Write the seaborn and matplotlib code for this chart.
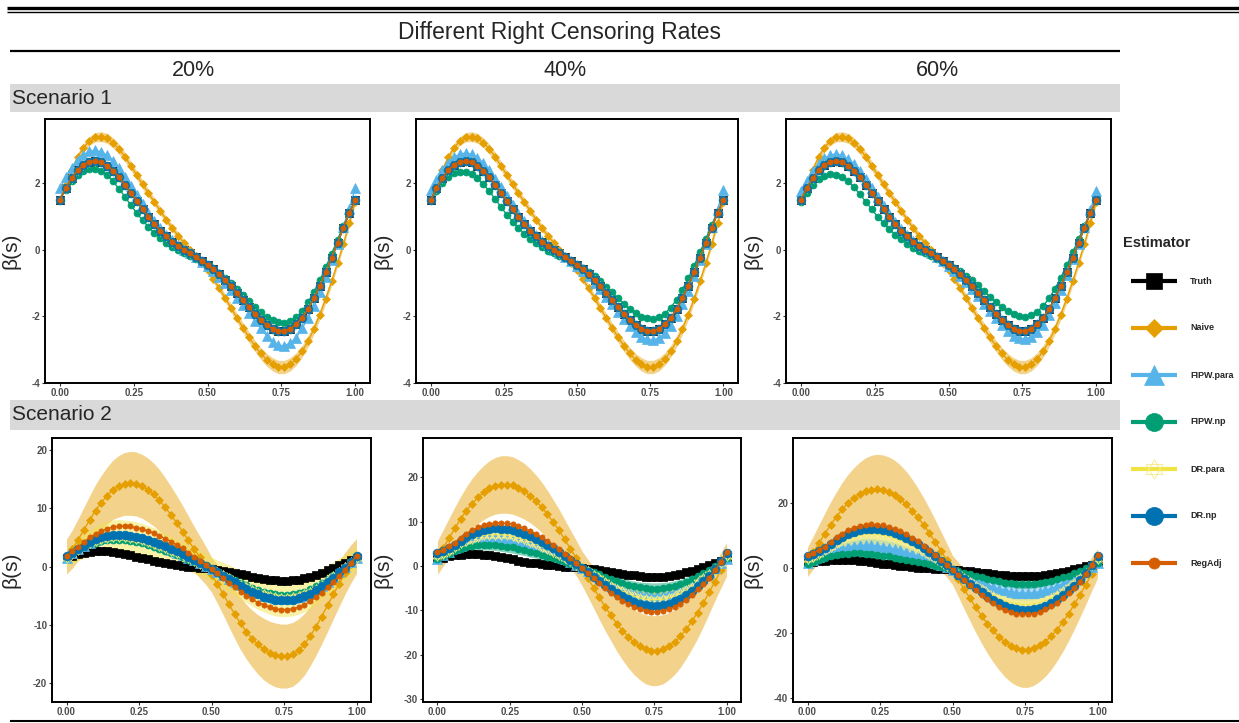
import numpy as np
import seaborn as sns
import matplotlib.pyplot as plt
from matplotlib.path import Path
from matplotlib.patches import Rectangle

sns.set_theme(style="white")
plt.rcParams['font.family'] = ['Liberation Sans', 'DejaVu Sans']

# Datos (s = 0, 0.02, ..., 1)
# ==============================================================================
s_grid = np.linspace(0, 1, 51)

truth = [1.50, 1.85, 2.15, 2.39, 2.55, 2.65, 2.67, 2.63, 2.53, 2.38,
         2.19, 1.96, 1.72, 1.48, 1.23, 1.00, 0.78, 0.58, 0.41, 0.25,
         0.12, 0.00, -0.11, -0.22, -0.33, -0.46, -0.59, -0.74, -0.92, -1.10,
         -1.31, -1.52, -1.72, -1.93, -2.11, -2.26, -2.37, -2.43, -2.43, -2.37,
         -2.24, -2.05, -1.79, -1.46, -1.09, -0.68, -0.24, 0.21, 0.66, 1.10,
         1.50]

# Escenario 1
naive_s1 = [1.50, 1.95, 2.40, 2.78, 3.07, 3.27, 3.38, 3.40, 3.35, 3.22,
            3.03, 2.80, 2.53, 2.25, 1.97, 1.70, 1.44, 1.17, 0.91, 0.66,
            0.43, 0.21, 0.00, -0.20, -0.40, -0.62, -0.88, -1.16, -1.45, -1.75,
            -2.05, -2.34, -2.62, -2.88, -3.11, -3.30, -3.44, -3.52, -3.52, -3.44,
            -3.28, -3.05, -2.75, -2.38, -1.95, -1.47, -0.95, -0.40, 0.18, 0.80,
            1.45]
hw_naive_s1 = [0.08, 0.09, 0.10, 0.11, 0.12, 0.13, 0.14, 0.15, 0.15, 0.15,
               0.15, 0.14, 0.14, 0.13, 0.13, 0.12, 0.12, 0.12, 0.11, 0.11,
               0.11, 0.11, 0.11, 0.11, 0.11, 0.11, 0.11, 0.12, 0.12, 0.13,
               0.14, 0.15, 0.16, 0.17, 0.18, 0.19, 0.20, 0.20, 0.20, 0.20,
               0.19, 0.18, 0.17, 0.16, 0.15, 0.14, 0.13, 0.12, 0.11, 0.10,
               0.09]
fipw_para_s1_20 = [1.85, 2.18, 2.47, 2.70, 2.86, 2.96, 2.99, 2.95, 2.84, 2.67,
                   2.45, 2.20, 1.93, 1.66, 1.38, 1.12, 0.88, 0.66, 0.46, 0.29,
                   0.14, 0.01, -0.11, -0.23, -0.36, -0.50, -0.65, -0.82, -1.01, -1.21,
                   -1.44, -1.67, -1.90, -2.13, -2.35, -2.58, -2.76, -2.87, -2.88, -2.80,
                   -2.64, -2.36, -2.06, -1.69, -1.27, -0.81, -0.32, 0.18, 0.70, 1.24,
                   1.85]
fipw_para_s1_40 = [1.80, 2.10, 2.39, 2.62, 2.78, 2.88, 2.91, 2.87, 2.76, 2.60,
                   2.39, 2.14, 1.88, 1.62, 1.34, 1.09, 0.86, 0.64, 0.45, 0.28,
                   0.14, 0.01, -0.11, -0.23, -0.35, -0.49, -0.64, -0.80, -0.99, -1.18,
                   -1.41, -1.63, -1.86, -2.08, -2.29, -2.47, -2.61, -2.69, -2.71, -2.65,
                   -2.50, -2.28, -1.99, -1.63, -1.23, -0.78, -0.30, 0.19, 0.69, 1.21,
                   1.80]
fipw_para_s1_60 = [1.78, 2.06, 2.36, 2.59, 2.75, 2.85, 2.88, 2.84, 2.73, 2.57,
                   2.36, 2.12, 1.86, 1.60, 1.33, 1.08, 0.85, 0.63, 0.44, 0.28,
                   0.13, 0.01, -0.11, -0.23, -0.35, -0.49, -0.63, -0.79, -0.98, -1.17,
                   -1.39, -1.62, -1.84, -2.06, -2.27, -2.44, -2.58, -2.66, -2.67, -2.61,
                   -2.47, -2.25, -1.97, -1.61, -1.21, -0.76, -0.29, 0.19, 0.69, 1.19,
                   1.78]
fipw_np_s1_20 = [1.50, 1.80, 2.06, 2.25, 2.38, 2.44, 2.44, 2.37, 2.24, 2.06,
                 1.84, 1.60, 1.35, 1.11, 0.89, 0.69, 0.51, 0.35, 0.21, 0.09,
                 -0.01, -0.10, -0.18, -0.27, -0.36, -0.46, -0.57, -0.70, -0.84, -1.00,
                 -1.17, -1.35, -1.54, -1.72, -1.88, -2.02, -2.12, -2.18, -2.19, -2.14,
                 -2.03, -1.84, -1.58, -1.27, -0.92, -0.53, -0.12, 0.30, 0.72, 1.12,
                 1.50]
fipw_np_s1_40 = [1.50, 1.76, 2.00, 2.18, 2.30, 2.35, 2.35, 2.28, 2.15, 1.97,
                 1.76, 1.53, 1.29, 1.06, 0.85, 0.66, 0.49, 0.34, 0.20, 0.08,
                 -0.02, -0.10, -0.18, -0.26, -0.35, -0.45, -0.55, -0.67, -0.80, -0.95,
                 -1.11, -1.28, -1.46, -1.63, -1.78, -1.91, -2.01, -2.06, -2.07, -2.02,
                 -1.92, -1.74, -1.50, -1.20, -0.86, -0.48, -0.08, 0.33, 0.74, 1.13,
                 1.50]
fipw_np_s1_60 = [1.45, 1.72, 1.95, 2.12, 2.23, 2.27, 2.26, 2.19, 2.06, 1.88,
                 1.67, 1.45, 1.22, 1.00, 0.80, 0.62, 0.46, 0.32, 0.19, 0.07,
                 -0.03, -0.11, -0.19, -0.27, -0.35, -0.44, -0.54, -0.65, -0.78, -0.92,
                 -1.07, -1.24, -1.41, -1.57, -1.72, -1.85, -1.94, -2.00, -2.01, -1.96,
                 -1.86, -1.69, -1.46, -1.17, -0.84, -0.47, -0.08, 0.32, 0.72, 1.10,
                 1.48]

# Escenario 2
naive_s2_20 = [1.7, 3.0, 4.6, 6.3, 8.0, 9.6, 11.0, 12.2, 13.2, 13.8,
               14.2, 14.3, 14.2, 13.8, 13.2, 12.4, 11.4, 10.2, 8.9, 7.5,
               6.0, 4.5, 3.0, 1.6, 0.2, -1.4, -3.0, -4.7, -6.5, -8.2,
               -9.8, -11.2, -12.4, -13.4, -14.2, -14.8, -15.2, -15.4, -15.4, -15.1,
               -14.4, -13.4, -12.0, -10.4, -8.6, -6.7, -4.8, -3.0, -1.2, 0.4,
               1.8]
naive_s2_40 = [1.9, 4.1, 6.3, 8.5, 10.6, 12.5, 14.1, 15.5, 16.6, 17.5,
               18.1, 18.4, 18.4, 18.2, 17.6, 16.9, 15.9, 14.7, 13.3, 11.7,
               9.9, 8.1, 6.0, 3.9, 1.8, -0.5, -2.7, -4.9, -7.1, -9.2,
               -11.1, -13.0, -14.6, -16.0, -17.2, -18.1, -18.8, -19.1, -19.1, -18.8,
               -18.1, -17.2, -15.9, -14.3, -12.5, -10.5, -8.3, -5.9, -3.5, -1.0,
               1.5]
naive_s2_60 = [2.0, 4.9, 7.8, 10.7, 13.4, 15.9, 18.2, 20.1, 21.6, 22.8,
               23.7, 24.2, 24.3, 24.0, 23.4, 22.5, 21.2, 19.7, 17.8, 15.7,
               13.4, 10.9, 8.2, 5.4, 2.5, -0.5, -3.4, -6.4, -9.2, -12.0,
               -14.6, -17.0, -19.1, -21.0, -22.6, -23.8, -24.6, -25.0, -25.0, -24.6,
               -23.7, -22.5, -20.9, -18.9, -16.6, -14.0, -11.1, -8.1, -5.0, -1.7,
               1.5]
fipw_para_s2_20 = [1.5, 2.3, 3.0, 3.6, 4.1, 4.5, 4.9, 5.1, 5.2, 5.3,
                   5.2, 5.1, 4.9, 4.7, 4.4, 4.0, 3.7, 3.3, 2.9, 2.4,
                   2.0, 1.5, 1.1, 0.6, 0.1, -0.5, -1.0, -1.5, -2.1, -2.6,
                   -3.2, -3.7, -4.2, -4.6, -5.0, -5.3, -5.5, -5.6, -5.6, -5.5,
                   -5.3, -5.0, -4.5, -3.9, -3.3, -2.6, -1.8, -1.0, -0.1, 0.7,
                   1.5]
fipw_para_s2_40 = [1.5, 2.4, 3.2, 4.0, 4.6, 5.2, 5.6, 5.9, 6.2, 6.3,
                   6.3, 6.2, 6.0, 5.8, 5.5, 5.1, 4.7, 4.2, 3.7, 3.2,
                   2.7, 2.1, 1.5, 0.9, 0.2, -0.5, -1.1, -1.8, -2.5, -3.2,
                   -3.8, -4.5, -5.0, -5.6, -6.0, -6.4, -6.6, -6.7, -6.7, -6.6,
                   -6.3, -5.9, -5.4, -4.8, -4.0, -3.2, -2.3, -1.4, -0.4, 0.6,
                   1.5]
fipw_para_s2_60 = [1.5, 2.5, 3.4, 4.3, 5.1, 5.7, 6.2, 6.6, 6.9, 7.1,
                   7.1, 7.1, 6.9, 6.7, 6.3, 6.0, 5.5, 5.0, 4.4, 3.8,
                   3.2, 2.5, 1.8, 1.1, 0.3, -0.5, -1.2, -2.0, -2.8, -3.6,
                   -4.4, -5.1, -5.7, -6.3, -6.8, -7.2, -7.5, -7.6, -7.6, -7.5,
                   -7.2, -6.8, -6.2, -5.5, -4.7, -3.7, -2.8, -1.7, -0.6, 0.5,
                   1.5]
fipw_np_s2_20 = [1.5, 2.2, 2.8, 3.3, 3.8, 4.1, 4.4, 4.6, 4.6, 4.6,
                 4.6, 4.4, 4.2, 4.0, 3.7, 3.4, 3.0, 2.7, 2.3, 2.0,
                 1.6, 1.2, 0.8, 0.4, 0.0, -0.5, -0.9, -1.4, -1.8, -2.3,
                 -2.8, -3.2, -3.7, -4.0, -4.4, -4.6, -4.8, -4.9, -4.9, -4.8,
                 -4.6, -4.3, -3.9, -3.4, -2.8, -2.2, -1.5, -0.7, 0.0, 0.8,
                 1.5]
fipw_np_s2_40 = [1.5, 2.2, 2.8, 3.4, 3.9, 4.2, 4.5, 4.7, 4.8, 4.8,
                 4.8, 4.6, 4.4, 4.2, 3.9, 3.6, 3.2, 2.9, 2.5, 2.1,
                 1.7, 1.3, 0.9, 0.5, 0.0, -0.5, -0.9, -1.4, -1.9, -2.4,
                 -2.9, -3.4, -3.8, -4.2, -4.6, -4.8, -5.0, -5.1, -5.1, -5.0,
                 -4.8, -4.5, -4.1, -3.5, -2.9, -2.3, -1.5, -0.8, 0.0, 0.8,
                 1.7]
fipw_np_s2_60 = [1.4, 2.1, 2.7, 3.3, 3.7, 4.1, 4.4, 4.5, 4.6, 4.6,
                 4.5, 4.4, 4.2, 3.9, 3.7, 3.3, 3.0, 2.7, 2.3, 1.9,
                 1.6, 1.2, 0.8, 0.4, 0.0, -0.5, -0.9, -1.4, -1.8, -2.3,
                 -2.8, -3.2, -3.7, -4.0, -4.4, -4.6, -4.8, -4.9, -4.9, -4.8,
                 -4.6, -4.3, -3.9, -3.4, -2.8, -2.2, -1.5, -0.7, 0.0, 0.8,
                 1.6]
dr_para_s2_20 = [1.5, 2.2, 2.9, 3.5, 4.0, 4.4, 4.7, 4.9, 5.1, 5.1,
                 5.0, 4.9, 4.7, 4.5, 4.2, 3.9, 3.5, 3.1, 2.7, 2.3,
                 1.9, 1.5, 1.0, 0.5, 0.1, -0.5, -1.0, -1.5, -2.0, -2.6,
                 -3.1, -3.6, -4.0, -4.5, -4.8, -5.1, -5.3, -5.4, -5.4, -5.3,
                 -5.1, -4.8, -4.3, -3.8, -3.1, -2.4, -1.7, -0.9, -0.1, 0.7,
                 1.5]
dr_para_s2_40 = [2.2, 2.7, 3.4, 4.3, 5.1, 5.7, 6.2, 6.6, 6.9, 7.1,
                 7.1, 7.1, 6.9, 6.7, 6.3, 6.0, 5.5, 5.0, 4.4, 3.8,
                 3.2, 2.5, 1.8, 1.1, 0.3, -0.5, -1.2, -2.0, -2.8, -3.6,
                 -4.4, -5.1, -5.7, -6.3, -6.8, -7.2, -7.5, -7.6, -7.6, -7.5,
                 -7.2, -6.8, -6.2, -5.5, -4.7, -3.7, -2.8, -1.7, -0.6, 0.7,
                 2.2]
dr_para_s2_60 = [2.8, 3.6, 4.3, 5.6, 6.7, 7.8, 8.6, 9.3, 9.9, 10.2,
                 10.5, 10.5, 10.4, 10.2, 9.8, 9.3, 8.6, 7.9, 7.1, 6.2,
                 5.2, 4.2, 3.1, 2.0, 0.8, -0.5, -1.7, -2.9, -4.1, -5.3,
                 -6.4, -7.5, -8.4, -9.3, -10.0, -10.5, -10.9, -11.1, -11.1, -10.9,
                 -10.5, -9.9, -9.1, -8.2, -7.1, -5.8, -4.4, -3.0, -1.5, 1.0,
                 2.8]
dr_np_s2_20 = [1.8, 2.3, 3.0, 3.6, 4.2, 4.7, 5.0, 5.3, 5.4, 5.5,
               5.4, 5.3, 5.1, 4.9, 4.6, 4.2, 3.9, 3.5, 3.0, 2.6,
               2.1, 1.6, 1.1, 0.6, 0.1, -0.5, -1.0, -1.6, -2.2, -2.7,
               -3.3, -3.9, -4.3, -4.8, -5.2, -5.5, -5.7, -5.8, -5.8, -5.7,
               -5.5, -5.1, -4.7, -4.1, -3.4, -2.7, -1.9, -1.0, -0.2, 0.7,
               1.8]
dr_np_s2_40 = [3.0, 3.5, 4.1, 4.8, 5.7, 6.5, 7.2, 7.7, 8.1, 8.4,
               8.5, 8.4, 8.3, 8.1, 7.7, 7.3, 6.8, 6.2, 5.5, 4.8,
               4.0, 3.2, 2.3, 1.4, 0.5, -0.5, -1.4, -2.4, -3.4, -4.3,
               -5.2, -6.0, -6.8, -7.5, -8.1, -8.5, -8.9, -9.0, -9.0, -8.9,
               -8.5, -8.0, -7.4, -6.6, -5.6, -4.6, -3.4, -2.2, -0.7, 1.1,
               3.0]
dr_np_s2_60 = [3.8, 4.5, 5.2, 6.2, 7.6, 8.8, 9.8, 10.7, 11.3, 11.8,
               12.1, 12.2, 12.1, 11.9, 11.4, 10.9, 10.2, 9.4, 8.4, 7.4,
               6.2, 5.0, 3.7, 2.4, 1.0, -0.5, -1.9, -3.3, -4.8, -6.1,
               -7.4, -8.6, -9.7, -10.7, -11.5, -12.2, -12.6, -12.8, -12.8, -12.6,
               -12.1, -11.5, -10.6, -9.5, -8.2, -6.8, -5.3, -3.6, -1.4, 1.1,
               3.8]
reg_adj_s2_20 = [1.8, 2.6, 3.4, 4.2, 5.0, 5.6, 6.1, 6.5, 6.8, 6.9,
                 7.0, 6.9, 6.7, 6.5, 6.1, 5.8, 5.3, 4.8, 4.3, 3.7,
                 3.1, 2.4, 1.7, 1.0, 0.3, -0.5, -1.2, -2.0, -2.8, -3.5,
                 -4.3, -5.0, -5.6, -6.2, -6.6, -7.0, -7.3, -7.4, -7.4, -7.3,
                 -7.0, -6.6, -6.0, -5.3, -4.5, -3.6, -2.7, -1.6, -0.6, 0.6,
                 1.8]
reg_adj_s2_40 = [3.1, 3.7, 4.5, 5.3, 6.4, 7.3, 8.1, 8.7, 9.2, 9.5,
                 9.7, 9.7, 9.6, 9.4, 9.0, 8.5, 7.9, 7.3, 6.5, 5.7,
                 4.8, 3.8, 2.8, 1.8, 0.7, -0.5, -1.6, -2.7, -3.8, -4.9,
                 -6.0, -6.9, -7.8, -8.6, -9.3, -9.8, -10.1, -10.3, -10.3, -10.1,
                 -9.8, -9.2, -8.5, -7.6, -6.5, -5.3, -4.1, -2.7, -1.0, 1.0,
                 3.1]
reg_adj_s2_60 = [4.2, 4.8, 5.7, 6.7, 8.2, 9.5, 10.7, 11.7, 12.4, 13.0,
                 13.3, 13.5, 13.4, 13.2, 12.7, 12.1, 11.4, 10.5, 9.4, 8.3,
                 7.0, 5.6, 4.2, 2.7, 1.1, -0.5, -2.1, -3.7, -5.2, -6.7,
                 -8.2, -9.5, -10.7, -11.8, -12.7, -13.4, -13.9, -14.1, -14.1, -13.9,
                 -13.4, -12.6, -11.7, -10.5, -9.1, -7.6, -5.9, -4.1, -1.7, 1.1,
                 4.2]

# semi-anchos de las bandas
hw_naive_s2_20 = [3.0, 3.3, 3.6, 3.9, 4.2, 4.5, 4.7, 4.9, 5.1, 5.3,
                  5.4, 5.5, 5.5, 5.5, 5.5, 5.4, 5.3, 5.1, 4.9, 4.7,
                  4.5, 4.2, 3.9, 3.6, 3.3, 3.0, 3.3, 3.6, 3.9, 4.2,
                  4.5, 4.7, 4.9, 5.1, 5.3, 5.4, 5.5, 5.5, 5.5, 5.5,
                  5.4, 5.3, 5.1, 4.9, 4.7, 4.5, 4.2, 3.9, 3.6, 3.3,
                  3.0]
hw_naive_s2_40 = [3.8, 4.1, 4.5, 4.8, 5.1, 5.4, 5.7, 5.9, 6.1, 6.3,
                  6.4, 6.5, 6.5, 6.5, 6.4, 6.3, 6.1, 5.9, 5.7, 5.4,
                  5.1, 4.8, 4.5, 4.2, 4.0, 3.9, 4.2, 4.6, 5.0, 5.4,
                  5.8, 6.2, 6.6, 7.0, 7.3, 7.6, 7.8, 7.9, 7.9, 7.8,
                  7.6, 7.3, 7.0, 6.6, 6.2, 5.8, 5.3, 4.8, 4.3, 4.0,
                  3.8]
hw_naive_s2_60 = [4.5, 5.1, 5.7, 6.4, 7.1, 7.7, 8.3, 8.9, 9.4, 9.9,
                  10.3, 10.6, 10.8, 10.9, 10.9, 10.8, 10.6, 10.2, 9.7, 9.1,
                  8.4, 7.6, 6.8, 6.0, 5.2, 4.5, 5.3, 6.1, 6.9, 7.7,
                  8.4, 9.1, 9.7, 10.2, 10.7, 11.1, 11.4, 11.6, 11.6, 11.4,
                  11.1, 10.7, 10.2, 9.6, 9.0, 8.3, 7.6, 6.8, 6.0, 5.2,
                  4.5]
hw_dr_para_s2_20 = [1.5, 1.7, 1.9, 2.1, 2.3, 2.5, 2.7, 2.8, 2.9, 3.0,
                    3.0, 3.0, 3.0, 2.9, 2.9, 2.8, 2.7, 2.6, 2.5, 2.4,
                    2.3, 2.2, 2.2, 2.1, 2.1, 2.1, 2.1, 2.2, 2.3, 2.4,
                    2.5, 2.6, 2.8, 2.9, 3.0, 3.1, 3.2, 3.2, 3.2, 3.2,
                    3.1, 3.0, 2.9, 2.8, 2.7, 2.6, 2.5, 2.3, 2.2, 2.1,
                    2.0]
hw_dr_para_s2_40 = [1.0, 1.2, 1.3, 1.5, 1.6, 1.8, 1.9, 2.0, 2.0, 2.1,
                    2.1, 2.1, 2.1, 2.0, 2.0, 2.0, 1.9, 1.8, 1.8, 1.7,
                    1.6, 1.5, 1.5, 1.5, 1.5, 1.5, 1.5, 1.5, 1.6, 1.7,
                    1.8, 1.8, 2.0, 2.0, 2.1, 2.2, 2.2, 2.2, 2.2, 2.2,
                    2.2, 2.1, 2.0, 2.0, 1.9, 1.8, 1.8, 1.6, 1.5, 1.5,
                    1.4]
hw_dr_para_s2_60 = [1.2, 1.4, 1.6, 1.8, 2.0, 2.2, 2.4, 2.5, 2.6, 2.7,
                    2.8, 2.8, 2.8, 2.8, 2.7, 2.6, 2.5, 2.4, 2.3, 2.2,
                    2.1, 2.0, 1.9, 1.8, 1.8, 1.8, 1.8, 1.9, 2.0, 2.1,
                    2.2, 2.4, 2.5, 2.6, 2.7, 2.8, 2.9, 2.9, 2.9, 2.9,
                    2.8, 2.7, 2.6, 2.5, 2.4, 2.2, 2.0, 1.9, 1.7, 1.5,
                    1.4]
hw_fipw_para_s2_40 = [0.7, 0.8, 0.9, 1.0, 1.1, 1.2, 1.3, 1.4, 1.5, 1.5,
                      1.6, 1.6, 1.6, 1.6, 1.6, 1.5, 1.5, 1.4, 1.3, 1.3,
                      1.2, 1.1, 1.0, 1.0, 0.9, 0.9, 0.9, 1.0, 1.0, 1.1,
                      1.2, 1.3, 1.3, 1.4, 1.5, 1.5, 1.6, 1.6, 1.6, 1.6,
                      1.5, 1.5, 1.4, 1.3, 1.3, 1.2, 1.1, 1.0, 0.9, 0.8,
                      0.7]
hw_fipw_para_s2_60 = [0.9, 1.0, 1.2, 1.3, 1.5, 1.6, 1.8, 1.9, 2.0, 2.1,
                      2.2, 2.2, 2.2, 2.2, 2.2, 2.1, 2.0, 1.9, 1.8, 1.7,
                      1.6, 1.5, 1.3, 1.2, 1.1, 1.0, 1.1, 1.2, 1.3, 1.5,
                      1.6, 1.7, 1.8, 1.9, 2.0, 2.1, 2.2, 2.2, 2.2, 2.2,
                      2.1, 2.0, 1.9, 1.8, 1.7, 1.5, 1.4, 1.3, 1.1, 1.0,
                      0.9]
hw_fipw_np_s2 = [0.5, 0.6, 0.7, 0.8, 0.9, 1.0, 1.1, 1.1, 1.2, 1.2,
                 1.3, 1.3, 1.3, 1.3, 1.3, 1.2, 1.2, 1.1, 1.1, 1.0,
                 0.9, 0.9, 0.8, 0.7, 0.7, 0.6, 0.7, 0.7, 0.8, 0.9,
                 0.9, 1.0, 1.1, 1.1, 1.2, 1.2, 1.3, 1.3, 1.3, 1.3,
                 1.2, 1.2, 1.1, 1.0, 1.0, 0.9, 0.8, 0.7, 0.6, 0.6,
                 0.5]

columnas = ["20%", "40%", "60%"]
escenarios = ["Scenario 1", "Scenario 2"]
estimadores = ["Truth", "Naive", "FIPW.para", "FIPW.np", "DR.para", "DR.np", "RegAdj"]

curvas = {
    (0, 0): [truth, naive_s1, fipw_para_s1_20, fipw_np_s1_20, truth, truth, truth],
    (0, 1): [truth, naive_s1, fipw_para_s1_40, fipw_np_s1_40, truth, truth, truth],
    (0, 2): [truth, naive_s1, fipw_para_s1_60, fipw_np_s1_60, truth, truth, truth],
    (1, 0): [truth, naive_s2_20, fipw_para_s2_20, fipw_np_s2_20, dr_para_s2_20, dr_np_s2_20, reg_adj_s2_20],
    (1, 1): [truth, naive_s2_40, fipw_para_s2_40, fipw_np_s2_40, dr_para_s2_40, dr_np_s2_40, reg_adj_s2_40],
    (1, 2): [truth, naive_s2_60, fipw_para_s2_60, fipw_np_s2_60, dr_para_s2_60, dr_np_s2_60, reg_adj_s2_60],
}
bandas = {
    (0, 0): {"Naive": hw_naive_s1},
    (0, 1): {"Naive": hw_naive_s1},
    (0, 2): {"Naive": hw_naive_s1},
    (1, 0): {"Naive": hw_naive_s2_20, "DR.para": hw_dr_para_s2_20},
    (1, 1): {"Naive": hw_naive_s2_40, "FIPW.para": hw_fipw_para_s2_40,
             "FIPW.np": hw_fipw_np_s2, "DR.para": hw_dr_para_s2_40},
    (1, 2): {"Naive": hw_naive_s2_60, "FIPW.para": hw_fipw_para_s2_60,
             "FIPW.np": hw_fipw_np_s2, "DR.para": hw_dr_para_s2_60},
}
limites_y = {(0, 0): (-4.0, 3.93), (0, 1): (-4.0, 3.93), (0, 2): (-4.0, 3.93),
             (1, 0): (-23.3, 22.1), (1, 1): (-30.7, 28.9), (1, 2): (-41.1, 40.1)}
ticks_y = {(0, 0): [-4, -2, 0, 2], (0, 1): [-4, -2, 0, 2], (0, 2): [-4, -2, 0, 2],
           (1, 0): [-20, -10, 0, 10, 20], (1, 1): [-30, -20, -10, 0, 10, 20],
           (1, 2): [-40, -20, 0, 20]}

colores = {"Truth": "#000000", "Naive": "#E69F00", "FIPW.para": "#56B4E9",
           "FIPW.np": "#009E73", "DR.para": "#F0E442", "DR.np": "#0072B2",
           "RegAdj": "#D55E00"}

# estrella de David (shape 11 de ggplot)
hexagrama = Path([(0, 1), (-0.866, -0.5), (0.866, -0.5), (0, 1),
                  (0, -1), (-0.866, 0.5), (0.866, 0.5), (0, -1)],
                 [Path.MOVETO, Path.LINETO, Path.LINETO, Path.CLOSEPOLY,
                  Path.MOVETO, Path.LINETO, Path.LINETO, Path.CLOSEPOLY])

marcadores = {
    "Truth": dict(marker="s", markersize=6.3, markerfacecolor="#000000", markeredgecolor="#000000", markeredgewidth=0.5),
    "Naive": dict(marker="D", markersize=4.0, markerfacecolor="#E69F00", markeredgecolor="#E69F00", markeredgewidth=0.5),
    "FIPW.para": dict(marker="^", markersize=6.5, markerfacecolor="#56B4E9", markeredgecolor="#56B4E9", markeredgewidth=0.5),
    "FIPW.np": dict(marker="o", markersize=5.0, markerfacecolor="#009E73", markeredgecolor="#009E73", markeredgewidth=0.5),
    "DR.para": dict(marker=hexagrama, markersize=7.0, markerfacecolor="none", markeredgecolor="#F3EA86", markeredgewidth=0.6),
    "DR.np": dict(marker="o", markersize=6.3, markerfacecolor="#0072B2", markeredgecolor="#0072B2", markeredgewidth=0.5),
    "RegAdj": dict(marker="o", markersize=3.8, markerfacecolor="#D55E00", markeredgecolor="#D55E00", markeredgewidth=0.5),
}

# Figura
# ==============================================================================
W, H = 1239, 723
fig = plt.figure(figsize=(W / 100, H / 100), dpi=100)

ov = fig.add_axes([0, 0, 1, 1])
ov.set_xlim(0, W)
ov.set_ylim(H, 0)
ov.axis("off")

# cabecera tipo tabla
ov.plot([7, W], [7.5, 7.5], color="black", lw=2.4, solid_capstyle="butt")
ov.plot([7, W], [11.8, 11.8], color="black", lw=1.0, solid_capstyle="butt")
ov.text(560, 33, "Different Right Censoring Rates", ha="center", va="center", fontsize=16.5)
ov.plot([10, 1120], [51, 51], color="black", lw=1.6, solid_capstyle="butt")
for x, lab in zip([193, 565, 937], columnas):
    ov.text(x, 70, lab, ha="center", va="center", fontsize=15.5)
for (y0, y1), lab in zip([(84, 112), (400, 430)], escenarios):
    ov.add_patch(Rectangle((10, y0), 1110, y1 - y0, facecolor="#D9D9D9", edgecolor="none"))
    ov.text(12, (y0 + y1) / 2, lab, ha="left", va="center", fontsize=15)
ov.plot([10, W], [721, 721], color="black", lw=1.5, solid_capstyle="butt")

# paneles
cajas = {0: (119, 383, [(45, 370), (416, 738), (786, 1111)], [20, 393, 763]),
         1: (438, 702, [(52, 371), (423, 741), (793, 1112)], [20, 392, 763])}

for fila in range(2):
    top, bot, xs, xlab = cajas[fila]
    for col in range(3):
        l, r = xs[col]
        ax = fig.add_axes([l / W, 1 - bot / H, (r - l) / W, (bot - top) / H])
        ax.set_facecolor("white")
        ys = dict(zip(estimadores, curvas[(fila, col)]))
        for name, hw in bandas[(fila, col)].items():
            y = np.array(ys[name])
            h = np.array(hw)
            ax.fill_between(s_grid, y - h, y + h, color=colores[name], alpha=0.45, linewidth=0)
        for name in estimadores:
            sns.lineplot(x=s_grid, y=ys[name], ax=ax, color=colores[name],
                         linewidth=1.0, **marcadores[name])
        ax.set_xlim(-0.05, 1.05)
        ax.set_ylim(*limites_y[(fila, col)])
        ax.set_xticks([0, 0.25, 0.5, 0.75, 1.0],
                      labels=["0.00", "0.25", "0.50", "0.75", "1.00"], fontweight="bold")
        yt = ticks_y[(fila, col)]
        ax.set_yticks(yt, labels=[str(v) for v in yt], fontweight="bold")
        ax.tick_params(axis="both", labelsize=7, labelcolor="#4D4D4D", length=2,
                       width=0.8, color="#333333", pad=1.5, left=True, bottom=True)
        for sp in ax.spines.values():
            sp.set_color("black")
            sp.set_linewidth(1.4)
        ax.set_xlabel("")
        ax.set_ylabel("β(s)", fontsize=15)
        ax.yaxis.set_label_coords((xlab[col] - l) / (r - l), 0.5)

# leyenda
ov.text(1123, 243, "Estimator", ha="left", va="center", fontsize=10.5, fontweight="bold")
tam_leyenda = {"Truth": 12, "Naive": 9, "FIPW.para": 14, "FIPW.np": 13,
               "DR.para": 14, "DR.np": 13, "RegAdj": 8}
for i, name in enumerate(estimadores):
    y = 281 + 47 * i
    ov.plot([1131, 1177], [y, y], color=colores[name], lw=3, solid_capstyle="butt")
    kw = dict(marcadores[name])
    kw["markersize"] = tam_leyenda[name]
    ov.plot([1154], [y], linestyle="none", **kw)
    ov.text(1190, y, name, ha="left", va="center", fontsize=6.5, fontweight="bold")

fig.savefig("out.png", dpi=100)
